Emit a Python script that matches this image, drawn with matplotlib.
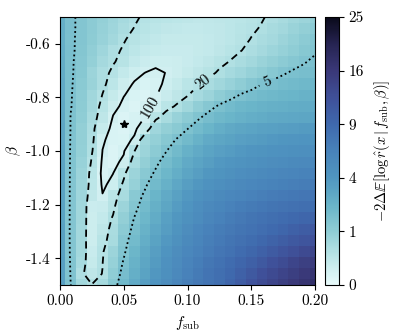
import numpy as np
import matplotlib
matplotlib.use('Agg')
import matplotlib.pyplot as plt
from matplotlib.colors import LinearSegmentedColormap, PowerNorm

plt.rcParams['font.family'] = 'serif'
plt.rcParams['font.serif'] = ['cmr10']
plt.rcParams['mathtext.fontset'] = 'cm'
plt.rcParams['axes.unicode_minus'] = False
plt.rcParams['font.size'] = 11

# grid of the scan
f_sub = np.linspace(0.0, 0.2, 25)
beta = np.linspace(-0.5, -1.5, 25)   # rows listed from top (beta=-0.5) to bottom

# -2 Delta E[log r] (rows: beta=-0.5 ... -1.5)
delta_ll = np.array([
    [2.4, 1.62, 1.35, 1.1, 0.9, 0.72, 0.58, 0.45, 0.35, 0.31, 0.28, 0.26, 0.24, 0.23, 0.23, 0.24, 0.26, 0.29, 0.33, 0.38, 0.45, 0.55, 0.65, 0.77, 0.9],
    [2.45, 1.62, 1.35, 1.08, 0.86, 0.68, 0.52, 0.39, 0.31, 0.26, 0.23, 0.21, 0.2, 0.2, 0.21, 0.23, 0.27, 0.31, 0.36, 0.42, 0.53, 0.64, 0.78, 0.93, 1.1],
    [2.5, 1.6, 1.35, 1.05, 0.82, 0.62, 0.42, 0.33, 0.26, 0.21, 0.18, 0.17, 0.17, 0.18, 0.2, 0.23, 0.27, 0.33, 0.41, 0.5, 0.61, 0.74, 0.9, 1.08, 1.3],
    [2.55, 1.62, 1.3, 0.98, 0.7, 0.46, 0.37, 0.27, 0.2, 0.16, 0.14, 0.14, 0.15, 0.17, 0.2, 0.25, 0.31, 0.39, 0.48, 0.59, 0.72, 0.87, 1.03, 1.2, 1.4],
    [2.6, 1.6, 1.25, 0.9, 0.6, 0.42, 0.33, 0.2, 0.13, 0.1, 0.1, 0.12, 0.15, 0.19, 0.25, 0.33, 0.41, 0.52, 0.64, 0.78, 0.93, 1.1, 1.27, 1.45, 1.65],
    [2.65, 1.6, 1.2, 0.75, 0.48, 0.35, 0.19, 0.11, 0.079, 0.065, 0.082, 0.12, 0.17, 0.24, 0.33, 0.44, 0.56, 0.7, 0.86, 1.03, 1.22, 1.43, 1.6, 1.7, 1.8],
    [2.7, 1.58, 1.15, 0.78, 0.47, 0.26, 0.12, 0.07, 0.045, 0.05, 0.1, 0.18, 0.28, 0.38, 0.5, 0.65, 0.82, 1.02, 1.24, 1.49, 1.65, 1.78, 1.9, 2.0, 2.1],
    [2.75, 1.56, 1.1, 0.66, 0.39, 0.18, 0.085, 0.04, 0.03, 0.07, 0.14, 0.25, 0.38, 0.56, 0.77, 1.0, 1.25, 1.55, 1.72, 1.87, 2.0, 2.1, 2.2, 2.3, 2.4],
    [2.8, 1.54, 1.05, 0.62, 0.3, 0.12, 0.05, 0.03, 0.06, 0.1, 0.29, 0.44, 0.65, 0.97, 1.26, 1.6, 1.85, 2.05, 2.2, 2.32, 2.42, 2.5, 2.57, 2.63, 2.7],
    [2.85, 1.48, 1.0, 0.55, 0.24, 0.07, 0.03, 0.05, 0.082, 0.32, 0.55, 0.82, 1.1, 1.4, 1.75, 2.0, 2.2, 2.38, 2.52, 2.65, 2.76, 2.86, 2.95, 3.02, 3.1],
    [2.9, 1.48, 0.95, 0.48, 0.16, 0.04, 0.03, 0.05, 0.18, 0.68, 0.92, 1.15, 1.48, 1.85, 2.2, 2.55, 2.8, 2.98, 3.12, 3.25, 3.37, 3.48, 3.58, 3.67, 3.75],
    [2.95, 1.45, 0.92, 0.46, 0.095, 0.04, 0.035, 0.1, 0.645, 0.9, 1.2, 1.55, 1.92, 2.32, 2.7, 2.97, 3.2, 3.4, 3.57, 3.72, 3.85, 3.97, 4.07, 4.17, 4.25],
    [3.0, 1.42, 0.9, 0.42, 0.078, 0.03, 0.06, 0.39, 0.75, 1.1, 1.48, 1.9, 2.33, 2.75, 3.1, 3.4, 3.65, 3.88, 4.08, 4.25, 4.4, 4.53, 4.65, 4.75, 4.85],
    [3.05, 1.4, 0.82, 0.36, 0.05, 0.03, 0.12, 0.55, 0.95, 1.35, 1.78, 2.22, 2.72, 3.15, 3.5, 3.82, 4.1, 4.35, 4.58, 4.78, 4.95, 5.1, 5.25, 5.38, 5.5],
    [3.1, 1.38, 0.75, 0.28, 0.04, 0.079, 0.33, 0.75, 1.17, 1.6, 2.05, 2.55, 3.05, 3.5, 3.9, 4.25, 4.55, 4.82, 5.05, 5.28, 5.5, 5.7, 5.9, 6.08, 6.25],
    [3.15, 1.36, 0.72, 0.26, 0.06, 0.11, 0.46, 0.85, 1.4, 1.88, 2.38, 2.9, 3.45, 3.95, 4.4, 4.75, 5.05, 5.35, 5.62, 5.88, 6.12, 6.35, 6.57, 6.78, 7.0],
    [3.18, 1.35, 0.68, 0.22, 0.085, 0.28, 0.55, 1.18, 1.62, 2.17, 2.7, 3.25, 3.85, 4.4, 4.85, 5.25, 5.6, 5.95, 6.27, 6.57, 6.85, 7.1, 7.35, 7.58, 7.8],
    [3.2, 1.34, 0.66, 0.13, 0.15, 0.33, 0.75, 1.3, 1.85, 2.42, 3.0, 3.62, 4.2, 4.8, 5.35, 5.85, 6.3, 6.7, 7.05, 7.35, 7.62, 7.85, 8.05, 8.3, 8.55],
    [3.22, 1.33, 0.65, 0.12, 0.2, 0.43, 0.95, 1.52, 2.07, 2.68, 3.3, 3.95, 4.55, 5.1, 5.7, 6.25, 6.75, 7.2, 7.6, 7.95, 8.3, 8.65, 9.0, 9.35, 9.7],
    [3.24, 1.33, 0.64, 0.12, 0.25, 0.5, 1.1, 1.68, 2.28, 2.92, 3.58, 4.25, 4.95, 5.6, 6.2, 6.75, 7.2, 7.6, 7.95, 8.4, 8.9, 9.4, 9.95, 10.5, 11.1],
    [3.26, 1.33, 0.63, 0.12, 0.3, 0.55, 1.25, 1.85, 2.52, 3.18, 3.85, 4.55, 5.3, 5.95, 6.55, 7.1, 7.6, 8.05, 8.55, 9.1, 9.7, 10.3, 10.9, 11.5, 12.1],
    [3.28, 1.35, 0.62, 0.14, 0.36, 0.75, 1.38, 2.12, 2.78, 3.45, 4.15, 4.88, 5.62, 6.3, 6.95, 7.5, 8.0, 8.6, 9.25, 9.95, 10.7, 11.5, 12.3, 13.1, 13.9],
    [3.3, 1.4, 0.56, 0.17, 0.39, 0.85, 1.58, 2.3, 3.0, 3.72, 4.45, 5.2, 5.98, 6.7, 7.4, 7.95, 8.6, 9.3, 10.1, 11.0, 12.0, 12.9, 13.8, 14.7, 15.5],
    [3.32, 1.45, 0.45, 0.25, 0.41, 1.0, 1.75, 2.5, 3.22, 3.95, 4.7, 5.48, 6.28, 7.05, 7.8, 8.3, 9.0, 9.9, 10.95, 12.1, 13.1, 14.0, 14.9, 15.8, 16.7],
    [3.35, 1.52, 0.62, 0.41, 0.6, 1.22, 1.95, 2.7, 3.45, 4.2, 4.95, 5.75, 6.55, 7.2, 7.7, 8.3, 9.3, 10.5, 11.7, 12.8, 13.9, 14.9, 15.8, 16.7, 17.6],
])

# contours (drawn on the same field) and their labels
contour_levels = [0.08, 0.4, 1.5]
contour_labels = ['100', '20', '5']
contour_styles = ['-', (0, (4, 2.5)), (0, (1, 1.6))]
label_spots = [(0.069, -0.83), (0.112, -0.742), (0.162, -0.73)]

truth_fsub = [0.05]
truth_beta = [-0.9]

cbar_ticks = [0, 1, 4, 9, 16, 25]

# ice_r-like colormap
ice_r = LinearSegmentedColormap.from_list('ice_r', [
    (0.0, '#e9fbfb'), (0.1, '#bde6e8'), (0.2, '#8fcdd5'), (0.3, '#68b3c8'),
    (0.4, '#5096c0'), (0.5, '#4882ba'), (0.6, '#3f69ad'), (0.7, '#3f5099'),
    (0.8, '#3a3878'), (0.9, '#262452'), (1.0, '#0a0a1a')])

fig = plt.figure(figsize=(3.98, 3.32), dpi=100)
ax = fig.add_axes([60 / 398, 1 - 285 / 332, 255 / 398, 268 / 332])
cax = fig.add_axes([325 / 398, 1 - 285 / 332, 14 / 398, 268 / 332])

mesh = ax.pcolormesh(f_sub, beta, delta_ll, cmap=ice_r,
                     norm=PowerNorm(0.5, vmin=0, vmax=25), shading='nearest')

cs = ax.contour(f_sub, beta, delta_ll, levels=contour_levels, colors='k',
                linewidths=1.3, linestyles=contour_styles)
ax.clabel(cs, fmt=dict(zip(contour_levels, contour_labels)), inline=True,
          fontsize=11, manual=label_spots)

ax.plot(truth_fsub, truth_beta, marker='*', color='k', ms=6, ls='none')

ax.set_xlim(0, 0.2)
ax.set_ylim(-1.5, -0.5)
ax.set_xticks([0, 0.05, 0.1, 0.15, 0.2])
ax.set_xticklabels(['%.2f' % t for t in [0, 0.05, 0.1, 0.15, 0.2]])
ax.set_yticks([-1.4, -1.2, -1.0, -0.8, -0.6])
ax.set_yticklabels(['%.1f' % t for t in [-1.4, -1.2, -1.0, -0.8, -0.6]])
ax.set_xlabel(r'$f_{\rm sub}$', labelpad=4)
ax.set_ylabel(r'$\beta$', labelpad=2)

cb = fig.colorbar(mesh, cax=cax, ticks=cbar_ticks)
cb.ax.set_yticklabels([str(t) for t in cbar_ticks])
cb.set_label(r'$-2\Delta\mathbb{E}[\log\hat{r}(x\,|\,f_{\rm sub},\beta)]$',
             fontsize=10.5, labelpad=6)

fig.savefig('out.png', dpi=100)
